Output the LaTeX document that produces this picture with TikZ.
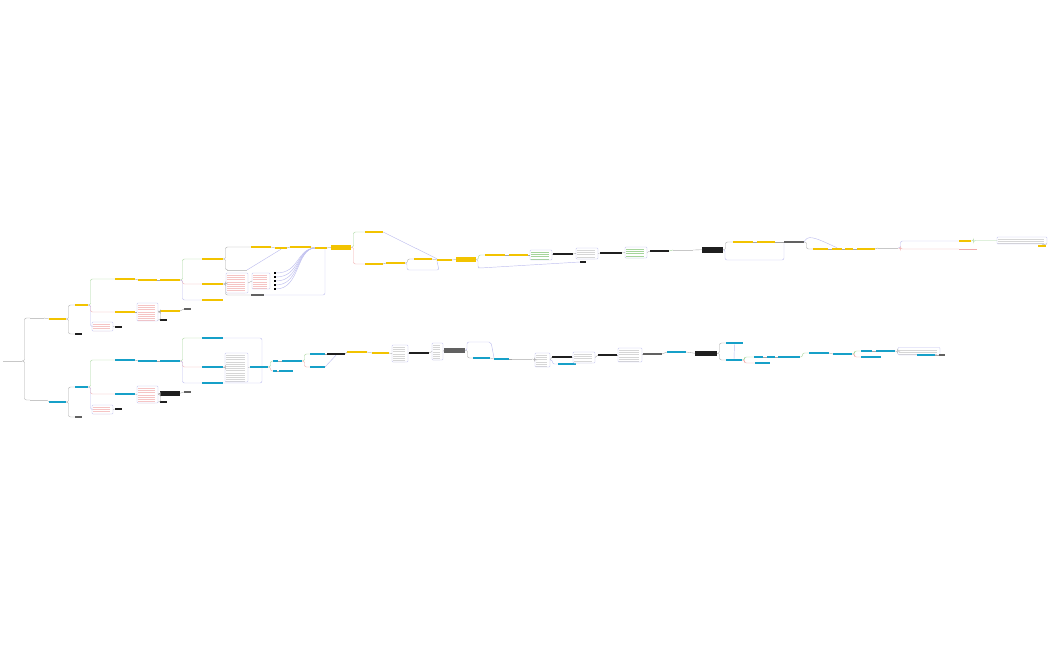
\documentclass[tikz,border=0pt]{standalone}
\definecolor{myY}{RGB}{242,195,0}
\definecolor{myB}{RGB}{22,160,200}
\definecolor{myL}{RGB}{190,190,238}
\definecolor{myG}{RGB}{165,212,155}
\definecolor{myP}{RGB}{240,170,170}
\tikzset{
 nb/.style={rectangle,inner sep=0pt,outer sep=0pt,minimum height=2.4pt},
 Y/.style={nb,fill=myY},
 B/.style={nb,fill=myB},
 K/.style={nb,fill=black!88},
 D/.style={nb,fill=black!62},
 T/.style={nb,fill=black!22,minimum height=1pt},
 TP/.style={nb,fill=myP,minimum height=1pt},
 lst/.style={nb,draw=myL,line width=0.3pt,fill=white,rounded corners=0.8pt,
   path picture={\foreach \k in {1,...,16}{\draw[#1,line width=0.35pt]
     ([xshift=1pt,yshift={-\k*2.2pt}]path picture bounding box.north west) --
     ([xshift=-3pt,yshift={-\k*2.2pt}]path picture bounding box.north east);}}},
 W/.style={lst=black!16},
 P/.style={lst=myP!70},
 G/.style={lst=myG},
 conn/.style={draw=black!35,line width=0.35pt,rounded corners=2pt},
 lav/.style={draw=myL,line width=0.45pt,rounded corners=2pt},
 grn/.style={draw=myG,line width=0.4pt,rounded corners=2pt},
 pnk/.style={draw=myP,line width=0.4pt,rounded corners=2pt},
 bul/.style={nb,fill=black,minimum width=2pt,minimum height=2pt},
}
\newcommand\mbx[5]{\node[#5,minimum width={(#3-#2)*1pt}] (#1) at ({(#2+#3)/2},#4) {};}
\newcommand\mlb[6]{\node[#6,minimum width={(#3-#2)*1pt},minimum height={(#5-#4)*1pt}] (#1) at ({(#2+#3)/2},{(#4+#5)/2}) {};}
\newcommand\mtr[3][conn]{\draw[#1] (#2.east) -- ++(2.5,0) |- (#3.west);}
\newcommand\mlk[3][conn]{\draw[#1] (#2.east) -- (#3.west);}
\begin{document}
\begin{tikzpicture}[x=1pt,y=-1pt]
\useasboundingbox (0,0) rectangle (1050,650);
% ---------- root ----------
\mbx{R}{3}{22}{361}{T}
\mbx{a1}{30}{44}{318}{T}
\mbx{a2}{49}{66}{319}{Y}
\mbx{b1}{30}{47}{400}{T}
\mbx{b2}{49}{66}{402}{B}
\mtr{R}{a1}\mlk{a1}{a2}
\mtr{R}{b1}\mlk{b1}{b2}
% ---------- upper branch ----------
\mbx{a3}{75}{88}{305}{Y}
\mbx{a4}{75}{82}{334}{K}
\mtr{a2}{a3}\mtr{a2}{a4}
\mbx{a5}{115}{135}{279}{Y}
\mbx{a6}{115}{135}{312}{Y}
\mlb{a7}{92}{113}{322}{331}{P}
\mbx{a8}{115}{122}{327}{K}
\mtr[grn]{a3}{a5}\mtr[pnk]{a3}{a6}\mtr[lav]{a3}{a7}\mlk{a7}{a8}
\mbx{a9}{138}{157}{280}{Y}
\mbx{a10}{160}{180}{280}{Y}
\mlk{a5}{a9}\mlk{a9}{a10}
\mlb{a11}{137}{158}{303}{321}{P}
\mbx{a12}{160}{180}{311}{Y}
\mbx{a13}{184}{191}{309}{D}
\mbx{a14}{160}{167}{320}{K}
\mlk{a6}{a11}\mtr{a11}{a12}\mtr{a11}{a14}\mlk{a12}{a13}
\mbx{c1}{202}{223}{259}{Y}
\mbx{c2}{202}{223}{284}{Y}
\mbx{c3}{202}{223}{300}{Y}
\mtr[grn]{a10}{c1}\mtr[pnk]{a10}{c2}\mtr[lav]{a10}{c3}
\mbx{c4}{251}{271}{247}{Y}
\mbx{c5}{275}{287}{248}{Y}
\mbx{c6}{290}{311}{247}{Y}
\mbx{c7}{315}{327}{248}{Y}
\mlb{c8}{331}{351}{245}{249.5}{Y}
\mbx{c9}{227}{247}{270}{T}
\mtr{c1}{c4}\mtr{c1}{c9}\mlk{c4}{c5}\mlk{c5}{c6}\mlk{c6}{c7}\mlk{c7}{c8}
\draw[lav] (c9.east) -- (c5.south);
\mlb{c10}{226}{248}{273}{293}{P}
\mlb{c11}{252}{270}{273}{289}{P}
\mbx{c12}{251}{264}{295}{D}
\mtr{c2}{c10}\mlk{c10}{c11}\mtr{c2}{c12}
\foreach \i/\yy in {1/273,2/277,3/281,4/285,5/289}{
  \node[bul] (bk\i) at (275,\yy) {};
  \draw[lav] (bk\i.east) .. controls (300,\yy) and (296,249) .. (c7.west);
}
\draw[lav] (c12.east) -| ([xshift=-2pt]c7.south east);
% continuing upper chain
\mbx{c13}{365}{383}{232}{Y}
\mbx{c14}{365}{383}{264}{Y}
\mbx{c15}{386}{405}{263}{Y}
\mbx{c16}{414}{432}{259}{Y}
\mbx{c17}{437}{452}{260}{Y}
\mlb{c18}{456}{476}{257}{262}{Y}
\mtr[grn]{c8}{c13}\mtr[pnk]{c8}{c14}\mlk{c14}{c15}\mtr{c15}{c16}\mlk{c16}{c17}\mlk{c17}{c18}
\draw[lav] (c13.east) -- (c17.north west);
\coordinate (q1) at (439,270);
\draw[lav] (c15.east) -- ++(2,0) |- (q1) -- (c17.south west);
\mbx{c19}{485}{505}{255}{Y}
\mbx{c20}{509}{528}{255}{Y}
\mlb{c21}{530}{552}{250}{260}{G}
\mbx{c22}{553}{573}{254}{K}
\mlb{c23}{576}{598}{248}{259}{W}
\mbx{c24}{580}{586}{262}{K}
\mbx{c25}{600}{622}{253}{K}
\mlb{c26}{625}{647}{247}{258}{G}
\mbx{c27}{650}{669}{251}{K}
\mbx{c28}{673}{693}{250}{T}
\mlb{c29}{702}{723}{247}{252.5}{K}
\mbx{c30}{733}{753}{242}{Y}
\mbx{c31}{757}{775}{242}{Y}
\mbx{c32}{784}{804}{242}{D}
\mtr[grn]{c18}{c19}\draw[lav] (c18.east) -- ++(2,0) |- (480,268) -- (c24.west);
\mlk{c19}{c20}\mlk{c20}{c21}\mlk{c21}{c22}\mlk{c22}{c23}\mlk{c23}{c25}\mlk{c25}{c26}
\mlk{c26}{c27}\mlk[grn]{c27}{c28}\mlk{c28}{c29}\mtr{c29}{c30}\mlk{c30}{c31}\mlk{c31}{c32}
\coordinate (q2) at (784,260);
\draw[lav] (c29.east) -- ++(2,0) |- (q2) -- (c32.south west);
\mbx{d1}{813}{828}{249}{Y}
\mbx{d2}{832}{842}{249}{Y}
\mbx{d3}{845}{853}{249}{Y}
\mbx{d4}{857}{875}{249}{Y}
\mbx{d5}{878}{898}{248}{T}
\mbx{d6}{959}{971}{241}{Y}
\mbx{d7}{959}{977}{249}{TP}
\mlb{d8}{997}{1047}{237}{244}{W}
\mbx{d9}{1038}{1046}{246}{Y}
\mtr{c32}{d1}\draw[lav] (c32.east) .. controls (808,235) and (812,236) .. (d2.north);
\mlk{d1}{d2}\mlk{d2}{d3}\mlk{d3}{d4}\mlk{d4}{d5}
\mtr[lav]{d5}{d6}\mtr[pnk]{d5}{d7}
\mtr[grn]{d6}{d8}\draw[conn] (d8.south east) -- (d9.north);
% ---------- lower branch ----------
\mbx{b3}{75}{88}{387}{B}
\mbx{b4}{75}{82}{417}{D}
\mtr{b2}{b3}\mtr{b2}{b4}
\mbx{e1}{115}{135}{360}{B}
\mbx{e2}{115}{135}{394}{B}
\mlb{e3}{92}{113}{405}{414}{P}
\mbx{e4}{115}{122}{409}{K}
\mtr[grn]{b3}{e1}\mtr[pnk]{b3}{e2}\mtr[lav]{b3}{e3}\mlk{e3}{e4}
\mbx{e5}{138}{157}{361}{B}
\mbx{e6}{160}{180}{361}{B}
\mlk{e1}{e5}\mlk{e5}{e6}
\mlb{e7}{137}{158}{386}{403}{P}
\mlb{e8}{160}{180}{391}{395.5}{K}
\mbx{e9}{184}{191}{392}{D}
\mbx{e10}{160}{167}{402}{K}
\mlk{e2}{e7}\mtr{e7}{e8}\mtr{e7}{e10}\mlk{e8}{e9}
\mbx{f1}{202}{223}{338}{B}
\mbx{f2}{202}{223}{367}{B}
\mbx{f3}{202}{223}{383}{B}
\mtr[grn]{e6}{f1}\mtr[pnk]{e6}{f2}\mtr[lav]{e6}{f3}
\mlb{f4}{225}{248}{353}{382}{W}
\mbx{f5}{250}{268}{367}{B}
\mtr{f2}{f4}\mlk{f4}{f5}
\draw[lav] (f1.east) -| ([xshift=3pt]f5.north);
\draw[lav] (f3.east) -| ([xshift=3pt]f5.south);
\mbx{f6}{273}{278}{361}{B}
\mbx{f7}{282}{302}{361}{B}
\mbx{f8}{273}{277}{371}{B}
\mbx{f9}{279}{293}{371}{B}
\mtr[grn]{f5}{f6}\mtr[pnk]{f5}{f8}\mlk{f6}{f7}\mlk{f8}{f9}
\mbx{f10}{310}{325}{354}{B}
\mbx{f11}{327}{345}{354}{K}
\mbx{f12}{310}{325}{367}{B}
\mtr[grn]{f7}{f10}\mtr[pnk]{f7}{f12}\mlk{f10}{f11}
\draw[lav] (f12.east) -- (f11.south);
\mbx{g1}{347}{367}{352}{Y}
\mbx{g2}{372}{389}{353}{Y}
\mlb{g3}{392}{408}{345}{362}{W}
\mbx{g4}{409}{429}{353}{K}
\mlb{g5}{432}{443}{343}{360}{W}
\mlb{g6}{444}{465}{348}{352.5}{D}
\mbx{g7}{473}{490}{358}{B}
\mbx{g8}{494}{509}{359}{B}
\mbx{g9}{512}{532}{359}{T}
\mlb{g10}{535}{550}{353}{367}{W}
\mbx{g11}{552}{572}{357}{K}
\mbx{g12}{558}{576}{364}{B}
\mlk{f11}{g1}\mlk{g1}{g2}\mlk{g2}{g3}\mlk{g3}{g4}\mlk{g4}{g5}\mlk{g5}{g6}
\mtr{g6}{g7}
\coordinate (q3) at (491,342);
\draw[lav] (g6.east) -- ++(2,0) |- (q3) -- (g8.north west);
\mlk{g7}{g8}\mlk{g8}{g9}\mtr{g9}{g10}\mlk{g10}{g11}\mtr[lav]{g10}{g12}
\mlb{g13}{573}{595}{352}{363}{W}
\mbx{g14}{598}{617}{355}{K}
\mlb{g15}{618}{642}{348}{362}{W}
\mbx{g16}{643}{662}{354}{D}
\mbx{g17}{667}{686}{352}{B}
\mlb{g18}{695}{717}{350.5}{356}{K}
\mlk{g11}{g13}\mlk{g13}{g14}\mlk{g14}{g15}\mlk{g15}{g16}\mlk{g16}{g17}\mlk{g17}{g18}
\mbx{g19}{726}{743}{343}{B}
\mbx{g20}{726}{742}{360}{B}
\mtr{g18}{g19}\mtr{g18}{g20}
\draw[lav] (g19.south) -- (g20.north);
\mbx{g21}{754}{763}{357}{B}
\mbx{g22}{767}{775}{357}{B}
\mbx{g23}{778}{800}{357}{B}
\mbx{g24}{755}{770}{363}{B}
\mtr[grn]{g20}{g21}\mtr[pnk]{g20}{g24}\mlk{g21}{g22}\mlk{g22}{g23}
\mbx{g25}{809}{829}{353}{B}
\mbx{g26}{833}{852}{354}{B}
\mtr[grn]{g23}{g25}\mlk{g25}{g26}
\mbx{g27}{861}{872}{351}{B}
\mbx{g28}{876}{895}{351}{B}
\mbx{g29}{861}{881}{357}{B}
\mtr[grn]{g26}{g27}\mtr[pnk]{g26}{g29}\mlk{g27}{g28}
\mlb{g30}{898}{940}{347.5}{355}{W}
\mbx{g31}{917}{935}{355}{B}
\mbx{g32}{939}{945}{355}{D}
\mtr{g28}{g30}\mlk{g31}{g32}
\end{tikzpicture}
\end{document}
